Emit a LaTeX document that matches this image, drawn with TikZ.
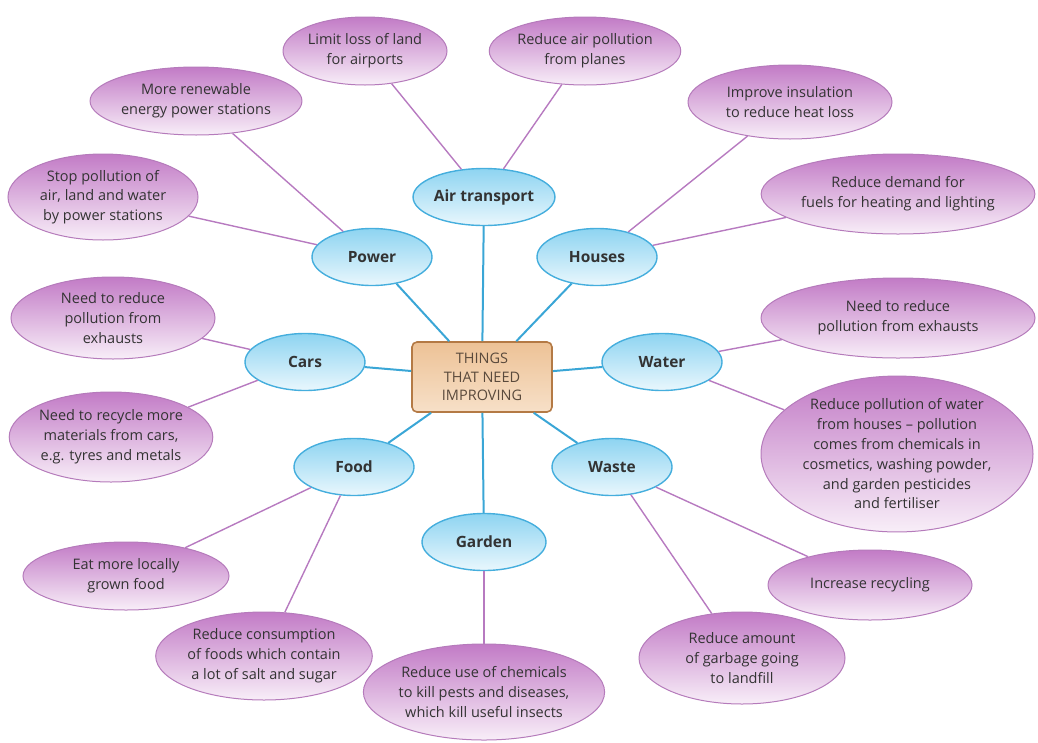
\documentclass[tikz,border=0pt]{standalone}
\usepackage{fontspec}
\setmainfont{Open Sans}
\usetikzlibrary{shapes.geometric}
\definecolor{bluebd}{HTML}{45AEDD}
\definecolor{bluetop}{HTML}{8ED4F1}
\definecolor{bluebot}{HTML}{E9F7FD}
\definecolor{purbd}{HTML}{B57BBB}
\definecolor{purtop}{HTML}{C27BC6}
\definecolor{purbot}{HTML}{F8EEF8}
\definecolor{boxbd}{HTML}{B47A45}
\definecolor{boxtop}{HTML}{EDC296}
\definecolor{boxbot}{HTML}{F7E0C8}
\definecolor{txt}{HTML}{333333}
\definecolor{boxtxt}{HTML}{5A4A3C}
\definecolor{purline}{HTML}{B77AC0}
\definecolor{blueline}{HTML}{3AA6D6}
\tikzset{
  blueell/.style={ellipse, draw=bluebd, line width=1.4pt, top color=bluetop, bottom color=bluebot,
    inner sep=0pt, minimum width=120pt, minimum height=57pt, text=txt,
    font=\fontsize{15.5}{18}\selectfont\bfseries, align=center},
  purell/.style={ellipse, draw=purbd, line width=1pt, top color=purtop, bottom color=purbot,
    inner sep=0pt, text=txt, font=\fontsize{14.5}{19.8}\selectfont, align=center},
  centerbox/.style={rectangle, rounded corners=5pt, draw=boxbd, line width=1.6pt,
    top color=boxtop, bottom color=boxbot, minimum width=140pt, minimum height=70pt,
    inner sep=0pt, text=boxtxt, font=\fontsize{14.5}{18.5}\selectfont, align=center},
  purconn/.style={draw=purline, line width=1.4pt},
  blueconn/.style={draw=blueline, line width=2pt}
}
\begin{document}
\begin{tikzpicture}[x=1pt,y=-1pt]
\useasboundingbox (0,0) rectangle (1038,742);
% center box
\node[centerbox] (c) at (482,377) {THINGS\\THAT NEED\\IMPROVING};
% blue ellipses
\node[blueell, minimum width=128pt] (air) at (484,197) {Air transport};
\node[blueell] (pow) at (372,257) {Power};
\node[blueell] (hou) at (597,257) {Houses};
\node[blueell] (car) at (305,362) {Cars};
\node[blueell] (wat) at (662,362) {Water};
\node[blueell] (foo) at (354,467) {Food};
\node[blueell] (was) at (612,467) {Waste};
\node[blueell, minimum width=124pt] (gar) at (484,542) {Garden};
% purple ellipses
\node[purell, minimum width=164pt, minimum height=68pt] (p1) at (365,51) {Limit loss of land\\for airports};
\node[purell, minimum width=184pt, minimum height=68pt] (p2) at (585,51) {Reduce air pollution\\from planes};
\node[purell, minimum width=208pt, minimum height=68pt] (p3) at (196,101) {More renewable\\energy power stations};
\node[purell, minimum width=204pt, minimum height=74pt] (p4) at (790,102) {Improve insulation\\to reduce heat loss};
\node[purell, minimum width=190pt, minimum height=86pt] (p5) at (103,197) {Stop pollution of\\air, land and water\\by power stations};
\node[purell, minimum width=270pt, minimum height=80pt] (p6) at (898,194) {Reduce demand for\\fuels for heating and lighting};
\node[purell, minimum width=204pt, minimum height=82pt] (p7) at (113,318) {Need to reduce\\pollution from\\exhausts};
\node[purell, minimum width=274pt, minimum height=80pt] (p8) at (898,318) {Need to reduce\\pollution from exhausts};
\node[purell, minimum width=200pt, minimum height=90pt] (p9) at (111,437) {Need to recycle more\\materials from cars,\\e.g. tyres and metals};
\node[purell, minimum width=272pt, minimum height=142pt] (p10) at (897,454) {Reduce pollution of water\\from houses --  pollution\\comes from chemicals in\\cosmetics, washing powder,\\and garden pesticides\\and fertiliser};
\node[purell, minimum width=206pt, minimum height=68pt] (p11) at (126,576) {Eat more locally\\grown food};
\node[purell, minimum width=204pt, minimum height=70pt] (p12) at (870,585) {Increase recycling};
\node[purell, minimum width=216pt, minimum height=88pt] (p13) at (264,656) {Reduce consumption\\of foods which contain\\a lot of salt and sugar};
\node[purell, minimum width=206pt, minimum height=92pt] (p14) at (742,658) {Reduce amount\\of garbage going\\to landfill};
\node[purell, minimum width=240pt, minimum height=96pt] (p15) at (484,692) {Reduce use of chemicals\\to kill pests and diseases,\\which kill useful insects};
% blue connectors
\foreach \n in {air,pow,hou,car,wat,foo,was,gar} \draw[blueconn] (\n) -- (c);
% purple connectors
\draw[purconn] (p1) -- (air);
\draw[purconn] (p2) -- (air);
\draw[purconn] (p3) -- (pow);
\draw[purconn] (p5) -- (pow);
\draw[purconn] (p4) -- (hou);
\draw[purconn] (p6) -- (hou);
\draw[purconn] (p7) -- (car);
\draw[purconn] (p9) -- (car);
\draw[purconn] (p8) -- (wat);
\draw[purconn] (p10) -- (wat);
\draw[purconn] (p11) -- (foo);
\draw[purconn] (p13) -- (foo);
\draw[purconn] (p12) -- (was);
\draw[purconn] (p14) -- (was);
\draw[purconn] (p15) -- (gar);
\end{tikzpicture}
\end{document}
